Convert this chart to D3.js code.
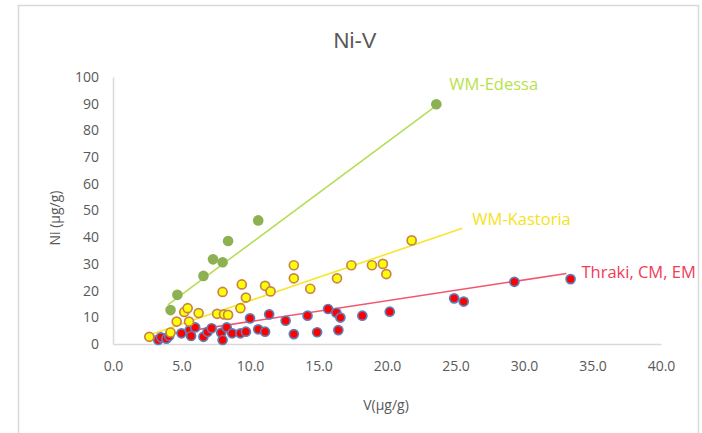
<!DOCTYPE html>
<html>
<head>
<meta charset="utf-8">
<script src="https://cdn.jsdelivr.net/npm/d3@7"></script>
<style>
  body { margin: 0; background: #fff; }
  svg { display: block; }
  .tick text { font-family: "Open Sans", sans-serif; font-size: 14px; fill: #595959; }
</style>
</head>
<body>
<div id="chart"></div>
<script>
// *********************************************
// DATA
// *********************************************

// V (ug/g), Ni (ug/g) pairs
var edessa = [[4.2,12.7],[4.7,18.4],[6.6,25.5],[7.3,31.7],[8.0,30.6],[8.4,38.6],[10.6,46.3],[23.6,89.8]];

var kastoria = [[2.65,2.7],[4.2,4.3],[4.65,8.4],[5.2,12.0],[5.45,13.4],[5.55,8.4],[6.25,11.6],
  [7.6,11.3],[8.0,19.5],[8.1,11.1],[8.4,10.9],[9.3,13.4],[9.4,22.3],[9.7,17.4],[11.1,21.8],
  [11.5,19.7],[13.2,29.5],[13.2,24.6],[14.4,20.7],[16.35,24.6],[17.4,29.5],[18.9,29.5],
  [19.7,30.0],[19.95,26.2],[21.8,38.8]];

var thraki = [[3.3,1.5],[3.5,2.5],[3.9,2.0],[4.1,3.0],[5.0,4.0],[5.6,5.2],[5.7,3.0],[6.0,6.2],
  [6.6,2.7],[6.9,4.5],[7.2,5.9],[7.9,4.2],[8.0,1.5],[8.3,6.2],[8.7,4.0],[9.3,4.0],[9.7,4.6],
  [10.0,9.6],[10.6,5.5],[11.1,4.6],[11.4,11.1],[12.6,8.7],[13.2,3.7],[14.2,10.6],[14.9,4.4],
  [15.7,13.1],[16.3,11.7],[16.6,9.9],[16.45,5.2],[18.2,10.6],[20.2,12.1],[24.9,17.1],
  [25.6,15.9],[29.3,23.3],[33.4,24.3]];

// trendlines: [slope, intercept], drawn over [from, to]
var trendEdessa = [3.81, -0.6],  rangeEdessa = [4.0, 23.6];
var trendKastoria = [1.75, -1.3], rangeKastoria = [2.4, 25.5];
var trendThraki = [0.78, 0.6],   rangeThraki = [2.6, 33.1];

var seriesNames = ["WM-Edessa", "WM-Kastoria", "Thraki, CM, EM"];

var xTicks = [0, 5, 10, 15, 20, 25, 30, 35, 40];
var yTicks = [0, 10, 20, 30, 40, 50, 60, 70, 80, 90, 100];

// *********************************************
// SETUP
// *********************************************
var width = 702, height = 433;
var svg = d3.select("#chart").append("svg")
    .attr("width", width)
    .attr("height", height);

// chart frame
svg.append("rect")
  .attr("x", 18.5).attr("y", 5.5)
  .attr("width", 680).attr("height", 450)
  .style("fill", "#fff")
  .style("stroke", "#d9d9d9")
  .style("stroke-width", 1.5);

var x = d3.scaleLinear().domain([0, 40]).range([113, 661]);
var y = d3.scaleLinear().domain([0, 100]).range([344, 77]);

// title
svg.append("text")
  .attr("x", 355).attr("y", 48)
  .attr("text-anchor", "middle")
  .style("font-family", "Liberation Sans, Arial, sans-serif")
  .style("font-size", "22px")
  .style("fill", "#595959")
  .text("Ni-V");

// axes
var xAxis = svg.append("g")
  .attr("transform", "translate(0," + y(0) + ")")
  .call(d3.axisBottom(x).tickValues(xTicks).tickFormat(d3.format(".1f")).tickSize(0).tickPadding(17));

var yAxis = svg.append("g")
  .attr("transform", "translate(" + x(0) + ",0)")
  .call(d3.axisLeft(y).tickValues(yTicks).tickSize(0).tickPadding(14));

[xAxis, yAxis].forEach(function(a) {
  a.select(".domain").style("stroke", "#d9d9d9").style("stroke-width", 1.5);
});

// axis titles
svg.append("text")
  .attr("x", 386).attr("y", 410)
  .attr("text-anchor", "middle")
  .style("font-family", "Open Sans, sans-serif")
  .style("font-size", "14px")
  .style("fill", "#595959")
  .text("V(\u00b5g/g)");

svg.append("text")
  .attr("transform", "translate(60,218) rotate(-90)")
  .attr("text-anchor", "middle")
  .style("font-family", "Open Sans, sans-serif")
  .style("font-size", "14px")
  .style("fill", "#595959")
  .text("Ni (\u00b5g/g)");

// *********************************************
// TRENDLINES
// *********************************************
var line = d3.line()
  .x(function(d) { return x(d[0]); })
  .y(function(d) { return y(d[1]); });

function trendPoints(t, r) {
  return r.map(function(v) { return [v, t[0] * v + t[1]]; });
}

var trends = [
  {pts: trendPoints(trendThraki, rangeThraki), color: "#f2566e"},
  {pts: trendPoints(trendKastoria, rangeKastoria), color: "#f7e629"},
  {pts: trendPoints(trendEdessa, rangeEdessa), color: "#b4de55"}
];

svg.append("g").attr("id", "trends")
  .selectAll("path")
  .data(trends).enter()
  .append("path")
  .attr("d", function(d) { return line(d.pts); })
  .style("fill", "none")
  .style("stroke", function(d) { return d.color; })
  .style("stroke-width", 1.6);

// *********************************************
// POINTS
// *********************************************
function drawPoints(data, id, fill, stroke, r) {
  svg.append("g").attr("id", id)
    .selectAll("circle")
    .data(data).enter()
    .append("circle")
    .attr("cx", function(d) { return x(d[0]); })
    .attr("cy", function(d) { return y(d[1]); })
    .attr("r", r)
    .style("fill", fill)
    .style("stroke", stroke)
    .style("stroke-width", stroke == "none" ? 0 : 1.7);
}

drawPoints(thraki, "thraki", "#ff0000", "#5d7fb9", 4.5);
drawPoints(kastoria, "kastoria", "#ffff00", "#c8834f", 4.5);
drawPoints(edessa, "edessa", "#8db052", "none", 5.3);

// *********************************************
// SERIES LABELS (placed at the trendline ends)
// *********************************************
var labels = [
  {text: seriesNames[0], at: [rangeEdessa[1], edessa[edessa.length - 1][1]], dx: 13, dy: -14, color: "#b8e24a"},
  {text: seriesNames[1], at: trendPoints(trendKastoria, rangeKastoria)[1], dx: 10, dy: -3, color: "#f5e21c"},
  {text: seriesNames[2], at: trendPoints(trendThraki, rangeThraki)[1], dx: 15, dy: 5, color: "#f23a55"}
];

svg.append("g").attr("id", "labels")
  .selectAll("text")
  .data(labels).enter()
  .append("text")
  .attr("x", function(d) { return x(d.at[0]) + d.dx; })
  .attr("y", function(d) { return y(d.at[1]) + d.dy; })
  .style("font-family", "Open Sans, sans-serif")
  .style("font-size", "16.5px")
  .style("fill", function(d) { return d.color; })
  .text(function(d) { return d.text; });
</script>
</body>
</html>
